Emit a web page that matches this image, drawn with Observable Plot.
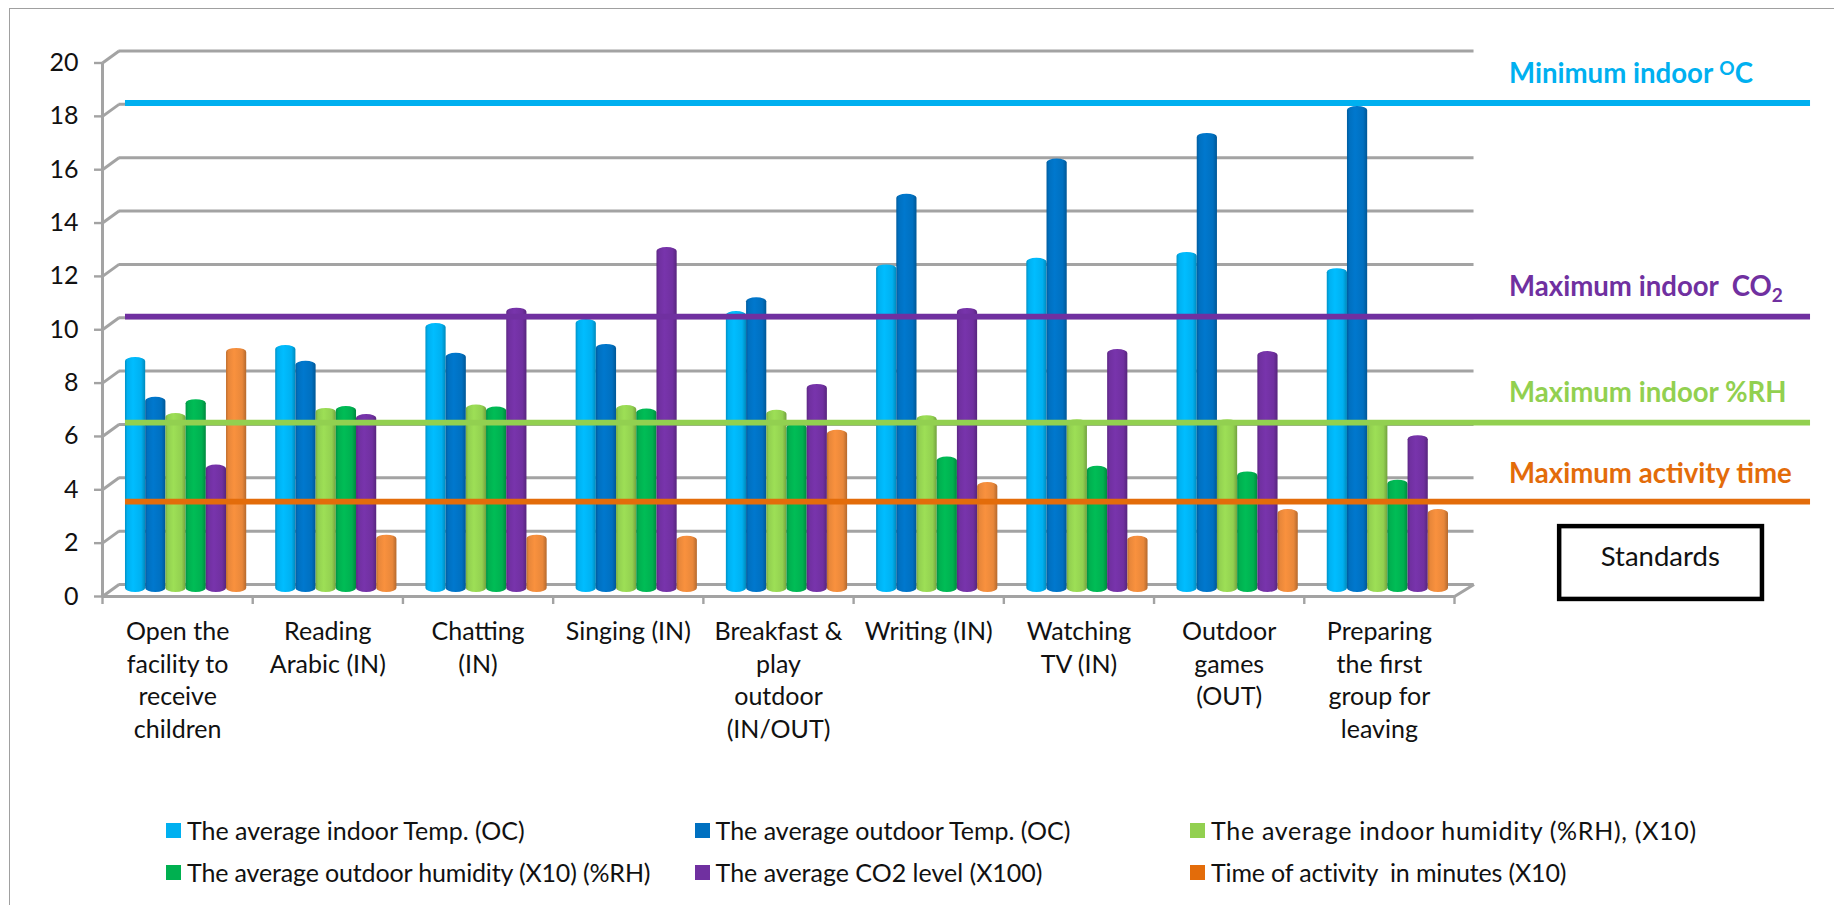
<!DOCTYPE html>
<html><head><meta charset="utf-8">
<script src="https://cdn.jsdelivr.net/npm/d3@7"></script>
<script src="https://cdn.jsdelivr.net/npm/@observablehq/plot@0.6"></script>
<style>
html,body{margin:0;padding:0;background:#fff;width:1834px;height:905px;overflow:hidden;font-family:Lato,sans-serif}
#frame{position:absolute;left:9px;top:8px;width:1900px;height:1000px;border:1.5px solid #a0a0a0;box-sizing:border-box}
#chart{position:absolute;left:0;top:0}
#legend{position:absolute;left:0;top:0;width:1834px;height:905px;pointer-events:none;font-size:25px;color:#111}
.li{position:absolute;white-space:pre;line-height:24px}
.li i{position:absolute;left:-21px;top:4.5px;width:15px;height:15px}
</style></head><body>
<div id="frame"></div><div id="chart"></div><div id="legend"></div>
<script>
const categories = ["Open the\nfacility to\nreceive\nchildren","Reading\nArabic (IN)","Chatting\n(IN)","Singing (IN)","Breakfast &\nplay\noutdoor\n(IN/OUT)","Writing (IN)","Watching\nTV (IN)","Outdoor\ngames\n(OUT)","Preparing\nthe first\ngroup for\nleaving"];
const seriesNames = ["The average indoor Temp. (OC)","The average outdoor Temp. (OC)","The average indoor humidity (%RH), (X10)","The average outdoor humidity (X10) (%RH)","The average CO2 level (X100)","Time of activity  in minutes (X10)"];
const seriesColors = ["#00b0f0","#0070c0","#92d050","#00b050","#7030a0","#e8873a"];
const legendColors = ["#00b0f0","#0070c0","#92d050","#00b050","#7030a0","#e36c0a"];
const indoorTemp  = [8.73,9.18,10.0,10.15,10.45,12.2,12.45,12.67,12.06];
const outdoorTemp = [7.24,8.59,8.89,9.22,10.97,14.85,16.17,17.13,18.14];
const indoorRH    = [6.63,6.82,6.95,6.93,6.75,6.55,6.4,6.4,6.35];
const outdoorRH   = [7.15,6.89,6.87,6.8,6.23,5.0,4.65,4.44,4.13];
const co2Level    = [4.7,6.59,10.58,12.85,7.72,10.57,9.03,8.95,5.8];
const activity    = [9.07,2.07,2.07,2.03,6.0,4.04,2.03,3.03,3.03];
const seriesValues = [indoorTemp,outdoorTemp,indoorRH,outdoorRH,co2Level,activity];
const standardNames = ["Minimum indoor OC","Maximum indoor  CO2","Maximum indoor %RH","Maximum activity time"];
const standardValues = [18.35,10.34,6.37,3.41];
const standardColors = ["#00b0f0","#7030a0","#92d050","#e36c0a"];
const standardLabelY = [19.59,11.58,7.64,4.6];
const yTicks = [0,2,4,6,8,10,12,14,16,18,20];

// 3-D wall and floor offsets, in data units
const depthX = 0.11, depthY = 0.45, barLift = 0.15, capLift = 0.08;
const groupStart = 0.153, barW = 0.1345;
const grey = "#a3a3a3";

const bars = seriesValues.map((vals,s)=>vals.map((v,i)=>({
  x1:i+groupStart+s*barW, x2:i+groupStart+(s+1)*barW, y1:barLift, y2:v+barLift+capLift, s})));

const chart = Plot.plot({
  width:1834, height:790,
  marginLeft:102, marginRight:380, marginTop:62.5, marginBottom:194,
  x:{domain:[0,9],label:null},
  y:{domain:[0,20],label:null},
  style:{background:"transparent",fontFamily:"Lato, sans-serif"},
  marks:[
    Plot.ruleY(yTicks.map(v=>v+depthY),{x1:depthX,x2:9+depthX+0.02,stroke:grey,strokeWidth:3}),
    Plot.link(yTicks,{x1:0,y1:d=>d,x2:depthX,y2:d=>d+depthY,stroke:grey,strokeWidth:3}),
    Plot.link([0],{x1:9,y1:0,x2:9+depthX+0.02,y2:depthY,stroke:grey,strokeWidth:3}),
    Plot.ruleX([0],{y1:0,y2:20,stroke:grey,strokeWidth:3}),
    Plot.ruleY([0],{x1:0,x2:9,stroke:grey,strokeWidth:3}),
    Plot.axisY({ticks:yTicks,tickSize:8,tickPadding:16,fontSize:25,stroke:grey,strokeWidth:2.4,tickFormat:d=>d,label:null,fill:"#111"}),
    Plot.axisX({ticks:d3.range(10),tickSize:8,tickFormat:()=>"",stroke:grey,strokeWidth:2.4,label:null}),
    ...bars.map((b,s)=>Plot.rect(b,{x1:"x1",x2:"x2",y1:"y1",y2:"y2",fill:`url(#g${s})`,rx:10,ry:4})),
    Plot.ruleY(standardValues,{x1:0.153,x2:11.37,stroke:(d,i)=>standardColors[i],strokeWidth:5.8,dy:-4}),
    Plot.text(standardNames,{x:9.363,y:(d,i)=>standardLabelY[i],text:d=>d,fill:(d,i)=>standardColors[i],textAnchor:"start",fontSize:27.6,fontWeight:700}),
    Plot.text(categories,{x:(d,i)=>i+0.5,y:-0.75,text:d=>d,lineAnchor:"top",lineHeight:1.31,fontSize:25,fill:"#111"}),
    Plot.rect([0],{x1:9.7,x2:11.05,y1:-0.11,y2:2.62,fill:"white",stroke:"black",strokeWidth:4.5}),
    Plot.text(["Standards"],{x:10.37,y:1.48,text:d=>d,fontSize:27.5,fill:"#111"})
  ]
});

// bar shading
const ns="http://www.w3.org/2000/svg";
const defs=document.createElementNS(ns,"defs");
seriesColors.forEach((c,s)=>{
  const g=document.createElementNS(ns,"linearGradient");
  g.setAttribute("id",`g${s}`);
  const base=d3.color(c);
  [[0,base.darker(0.55)],[0.12,base],[0.4,base.brighter(0.2)],[0.8,base],[1,base.darker(0.7)]].forEach(([o,col])=>{
    const st=document.createElementNS(ns,"stop");
    st.setAttribute("offset",o);st.setAttribute("stop-color",col.formatHex());g.appendChild(st);
  });
  defs.appendChild(g);
});
chart.prepend(defs);

// sub/superscripts in the standard labels
chart.querySelectorAll("text").forEach(t=>{
  if(t.textContent==="Minimum indoor OC"){
    t.innerHTML='Minimum indoor <tspan dy="-8" font-size="19">O</tspan><tspan dy="8">C</tspan>';
  } else if(t.textContent==="Maximum indoor  CO2"){
    t.style.whiteSpace="pre";
    t.innerHTML='Maximum indoor  CO<tspan dy="6" font-size="19">2</tspan>';
  }
});
document.getElementById("chart").append(chart);

// legend, below the plot
const legendX=[187,715.6,1211], legendY=[818,860];
const host=document.getElementById("legend");
seriesNames.forEach((n,i)=>{
  const d=document.createElement("div");d.className="li";
  d.style.left=legendX[i%3]+"px";d.style.top=legendY[Math.floor(i/3)]+"px";
  if(i===2) d.style.letterSpacing="0.7px";
  if(i===3||i===5) d.style.letterSpacing="-0.15px";
  const sw=document.createElement("i");sw.style.background=legendColors[i];
  d.append(sw,document.createTextNode(n));host.append(d);
});
</script></body></html>
